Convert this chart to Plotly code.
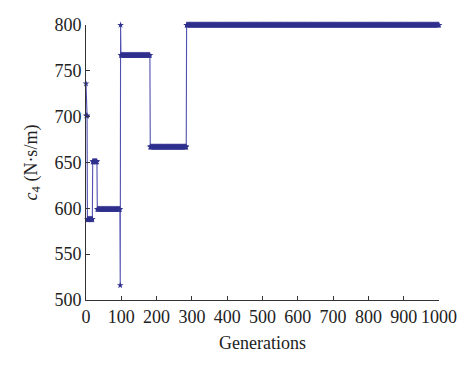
import plotly.graph_objects as go

# change points of the best c4 value (generation where a new value starts)
change_gens = [0, 1, 4, 19, 32, 97, 98, 99, 182, 285]
change_vals = [736, 701, 588, 651, 599, 516, 800, 767, 667, 800]
last_gen = 1000

x_ticks = [0, 100, 200, 300, 400, 500, 600, 700, 800, 900, 1000]
y_ticks = [500, 550, 600, 650, 700, 750, 800]

gens = list(range(0, last_gen + 1))
vals = []
k = 0
for g in gens:
    while k + 1 < len(change_gens) and g >= change_gens[k + 1]:
        k += 1
    vals.append(change_vals[k])

fig = go.Figure()
fig.add_trace(go.Scatter(
    x=gens, y=vals, mode="lines+markers", cliponaxis=False,
    line=dict(color="#5050b0", width=1.1),
    marker=dict(symbol="star", size=5, color="#30308e", line=dict(width=0)),
    showlegend=False,
))

font = dict(family="Liberation Serif, DejaVu Serif, serif", size=18, color="#222222")
fig.update_layout(
    width=474, height=368,
    margin=dict(l=78, r=43, t=17, b=76),
    paper_bgcolor="white", plot_bgcolor="white",
    font=font,
)
fig.update_xaxes(
    range=[0, 1000], tickvals=x_ticks, ticks="inside", ticklen=4,
    tickcolor="#333333", showline=True, linecolor="#333333", linewidth=1,
    showgrid=False, zeroline=False, automargin=False,
    title=dict(text="Generations", font=font, standoff=10),
)
fig.update_yaxes(
    range=[500, 800], tickvals=y_ticks, ticks="inside", ticklen=4,
    tickcolor="#333333", showline=True, linecolor="#333333", linewidth=1,
    showgrid=False, zeroline=False, automargin=False,
    title=dict(text="<i>c</i><sub>4</sub> (N·s/m)", font=font, standoff=12),
)
fig.write_html("out.html")
